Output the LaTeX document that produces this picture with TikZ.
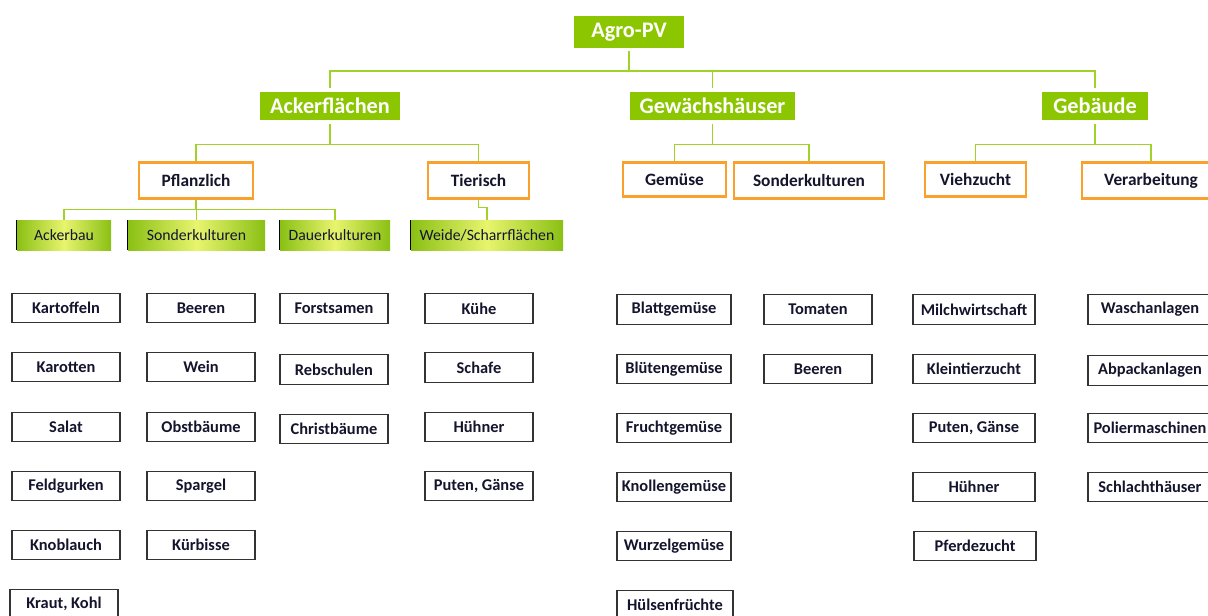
\documentclass[tikz,border=0pt]{standalone}
\usepackage{fontspec}
\setmainfont{Carlito}
\usetikzlibrary{shadows}
\definecolor{agrogreen}{RGB}{140,198,0}
\definecolor{linegreen}{RGB}{160,210,40}
\definecolor{catorange}{RGB}{250,160,45}
\definecolor{subyellow}{RGB}{232,244,110}
\definecolor{subgreen}{RGB}{138,192,20}
\definecolor{leaftext}{RGB}{20,20,45}
\begin{document}
\begin{tikzpicture}[
  x=0.75pt, y=-0.75pt,
  head/.style={rectangle, fill=agrogreen, draw=white, line width=2.5pt, text=white,
    font=\bfseries\fontsize{16.7}{18}\selectfont, minimum height=26pt, inner sep=0pt,
    drop shadow={shadow xshift=1.5pt, shadow yshift=-1.5pt, fill=black!25}},
  cat/.style={rectangle, draw=catorange, line width=2.2pt, fill=white, text=leaftext,
    font=\bfseries\fontsize{13}{15}\selectfont, minimum height=26.5pt, inner sep=0pt},
  sub/.style={rectangle, left color=subgreen, right color=subgreen, middle color=subyellow,
    text=leaftext, font=\fontsize{11.8}{13}\selectfont, minimum height=22.5pt, inner sep=0pt},
  leaf/.style={rectangle, draw=black!80, line width=0.9pt, fill=white, text=leaftext,
    font=\bfseries\fontsize{12.3}{14}\selectfont, minimum width=81pt, minimum height=22pt, inner sep=0pt},
  link/.style={draw=linegreen, line width=1.1pt}
]
  \useasboundingbox (0,0) rectangle (1208,615);

  \node[head, minimum width=85.5pt] (agro) at (629,32) {Agro-PV};
  \node[head, minimum width=108pt, minimum height=24pt] (acker) at (330,106) {Ackerflächen};
  \node[head, minimum width=126.75pt, minimum height=24pt] (gewaechs) at (712.5,106) {Gewächshäuser};
  \node[head, minimum width=82.5pt, minimum height=24pt] (gebaeude) at (1095,106) {Gebäude};

  \draw[link] (agro.south) -- ++(0,20) coordinate (bus0);
  \draw[link] (bus0) -| (acker.north);
  \draw[link] (bus0) -| (gewaechs.north);
  \draw[link] (bus0) -| (gebaeude.north);

  \node[cat, minimum width=85.5pt] (pflanz) at (196,180.5) {Pflanzlich};
  \node[cat, minimum width=75.75pt] (tier) at (478.5,180.5) {Tierisch};
  \node[cat, minimum width=77.25pt, minimum height=25pt] (gemuese) at (674.5,179.5) {Gemüse};
  \node[cat, minimum width=112.5pt] (sonderg) at (809,180.5) {Sonderkulturen};
  \node[cat, minimum width=75.75pt, minimum height=25pt] (vieh) at (975.5,179.5) {Viehzucht};
  \node[cat, minimum width=103.5pt] (verarb) at (1151,180.5) {Verarbeitung};

  \draw[link] (acker.south) -- ++(0,21) coordinate (bus1);
  \draw[link] (bus1) -| (pflanz.north);
  \draw[link] (bus1) -| (tier.north);
  \draw[link] (gewaechs.south) -- ++(0,21) coordinate (bus2);
  \draw[link] (bus2) -| (gemuese.north);
  \draw[link] (bus2) -| (sonderg.north);
  \draw[link] (gebaeude.south) -- ++(0,21) coordinate (bus3);
  \draw[link] (bus3) -| (vieh.north);
  \draw[link] (bus3) -| (verarb.north);

  \node[sub, minimum width=70.5pt] (ackerbau) at (64,235) {Ackerbau};
  \node[sub, minimum width=102.75pt] (sonderp) at (196.5,235) {Sonderkulturen};
  \node[sub, minimum width=82.5pt] (dauer) at (335,235) {Dauerkulturen};
  \node[sub, minimum width=114pt] (weide) at (487,235) {Weide/Scharrflächen};
  \draw[black, line width=1pt] (ackerbau.north west) -- (ackerbau.south west);
  \draw[black, line width=1pt] (sonderp.north west) -- (sonderp.south west);
  \draw[black, line width=1pt] (dauer.north west) -- (dauer.south west);
  \draw[black, line width=1pt] (weide.north west) -- (weide.south west);

  \draw[link] (pflanz.south) -- ++(0,10) coordinate (bus4);
  \draw[link] (bus4) -| (ackerbau.north);
  \draw[link] (bus4) -| (sonderp.north);
  \draw[link] (bus4) -| (dauer.north);
  \draw[link] (tier.south) -- ++(0,8) -| (weide.north);

  \node[leaf] (kartoffeln) at (66,308) {Kartoffeln};
  \node[leaf] (karotten) at (66,367) {Karotten};
  \node[leaf] (salat) at (66,427) {Salat};
  \node[leaf] (feldgurken) at (66,486) {Feldgurken};
  \node[leaf] (knoblauch) at (66,545) {Knoblauch};
  \node[leaf] (kraut) at (64,604) {Kraut, Kohl};

  \node[leaf] (beeren) at (201,308) {Beeren};
  \node[leaf] (wein) at (201,367) {Wein};
  \node[leaf] (obst) at (201,427) {Obstbäume};
  \node[leaf] (spargel) at (201,486) {Spargel};
  \node[leaf] (kuerbis) at (201,545) {Kürbisse};

  \node[leaf] (forst) at (334,308.5) {Forstsamen};
  \node[leaf] (reb) at (334,369.5) {Rebschulen};
  \node[leaf] (christ) at (334,429) {Christbäume};

  \node[leaf] (kuehe) at (479,308.5) {Kühe};
  \node[leaf] (schafe) at (479,367.5) {Schafe};
  \node[leaf] (huehnerA) at (479,427) {Hühner};
  \node[leaf] (putenA) at (479,486) {Puten, Gänse};

  \node[leaf, minimum width=85.5pt] (blatt) at (674,309.5) {Blattgemüse};
  \node[leaf, minimum width=85.5pt] (blueten) at (674,369) {Blütengemüse};
  \node[leaf, minimum width=85.5pt] (frucht) at (674,428) {Fruchtgemüse};
  \node[leaf, minimum width=85.5pt] (knollen) at (674,487) {Knollengemüse};
  \node[leaf, minimum width=85.5pt] (wurzel) at (674,546) {Wurzelgemüse};
  \node[leaf, minimum width=87pt] (huelsen) at (675,605) {Hülsenfrüchte};

  \node[leaf] (tomaten) at (818,309.5) {Tomaten};
  \node[leaf] (beerenG) at (818,369) {Beeren};

  \node[leaf, minimum width=91.5pt] (milch) at (974,309.5) {Milchwirtschaft};
  \node[leaf, minimum width=91.5pt] (klein) at (974,369) {Kleintierzucht};
  \node[leaf, minimum width=91.5pt] (putenB) at (974,428) {Puten, Gänse};
  \node[leaf, minimum width=91.5pt] (huehnerB) at (974,487) {Hühner};
  \node[leaf, minimum width=91.5pt] (pferde) at (975,546) {Pferdezucht};

  \node[leaf, minimum width=93pt] (wasch) at (1150,309.5) {Waschanlagen};
  \node[leaf, minimum width=93pt] (abpack) at (1150,370.5) {Abpackanlagen};
  \node[leaf, minimum width=93pt] (polier) at (1150,428) {Poliermaschinen};
  \node[leaf, minimum width=93pt] (schlacht) at (1150,487) {Schlachthäuser};
\end{tikzpicture}
\end{document}
